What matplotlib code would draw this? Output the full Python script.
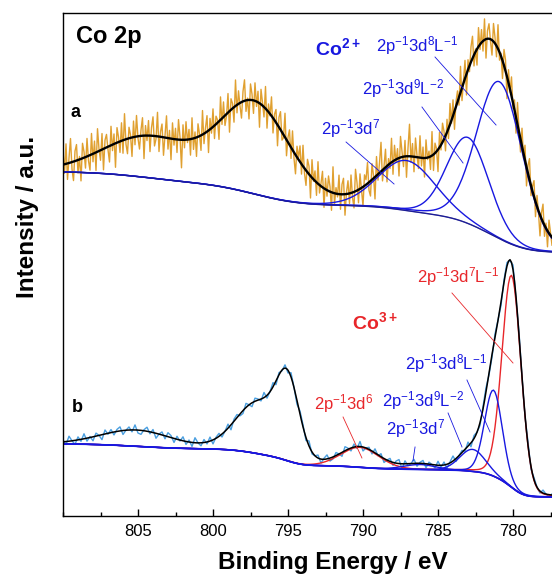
import numpy as np
import matplotlib.pyplot as plt
from matplotlib.ticker import MultipleLocator

plt.rcParams['font.family'] = ['Liberation Sans', 'DejaVu Sans']
plt.rcParams['mathtext.fontset'] = 'custom'
plt.rcParams['mathtext.rm'] = 'Liberation Sans'
plt.rcParams['mathtext.it'] = 'Liberation Sans:italic'
plt.rcParams['mathtext.bf'] = 'Liberation Sans:bold'

# binding energy window (eV)
e_hi, e_lo = 810.0, 777.4

# ---- sample a (Co2+): peak centre / height / FWHM, Shirley end points
a_centers = [804.3, 797.2, 787.1, 783.0, 780.9]
a_heights = [40, 90, 50, 86, 157]
a_fwhm = [7.0, 5.5, 4.5, 3.3, 3.6]
a_shown = [False, False, True, True, True]
a_bg_ends = [344, 264]
a_eta = 0.1

# counts minus fit, 0.1 eV steps from 810 eV down
a_resid = [
    14, -9, 20, -16, 5, 24, -7, -19, 10, 16, -13, 3, -22, 15, 6, -11, 18, -5, -15, 21,
    -8, 12, -18, 23, 2, -10, 16, -21, 8, 13, -3, -16, 19, -6, 10, -24, 15, 5, -11, 18,
    -13, 26, -5, -15, 11, 3, -19, 16, -8, 21, -2, -13, 6, 18, -23, 10, -5, 15, -16, 8,
    19, -10, -3, 24, -15, 5, 13, -18, 2, 22, -11, 8, -21, 16, -6, 11, -13, 20, 3, -28,
    15, -8, 18, -3, 10, -16, 21, -11, 6, -19, 13, 2, -15, 24, -10, 5, 16, -22, 11, -5,
    18, -13, 8, 3, -18, 23, -6, 15, -10, -2, 19, -21, 11, 5, -15, 26, -8, 13, -3, -16,
    10, 21, -11, 2, -19, 16, 6, -13, 18, -5, 11, -24, 15, 3, -10, 22, -18, 8, -2, 19,
    -15, 6, 13, -21, 10, 18, -8, -3, 24, -16, 5, 15, -11, 19, -6, -19, 11, 2, 16, -10,
    21, -5, -15, 13, 8, -22, 18, -2, 10, -13, 22, -8, 3, 16, -19, 11, -6, 15, 5, -18,
    26, -11, 6, -3, 19, -15, 10, 16, -21, 2, 13, -10, 18, -5, -16, 22, 8, -13, 15, -2,
    -19, 11, 5, 21, -8, -15, 16, 3, -22, 19, -6, 10, 29, -11, 2, 18, -16, 6, -5, 24,
    -13, 15, -3, 10, -18, 21, 5, -10, 16, -21, 8, 32, -6, 13, -15, 19, 2, -11, 22, -8,
    11, -19, 18, -2, 6, -13, 24, -16, 10, 3, -22, 15, -5, 19, 8, -15, 13, -10, 21, -3,
    16, -18, 5, 11, -8, 26, -13, 2, 18, -21, 10, -6, 15, 22, -11, 3, -16, 19, -5, 13,
    -10, 21, -19, 8, 15, -2, -15, 18, 6, -11, 24, -8, 3, -18, 16, 11, -22, 13, -3, 19,
    -6, 10, -16, 22, 2, -13, 18, -5, 15, -19, 8, 21, -10, 5, 16, -15, 11, -2, -21, 6,
    18, -11, 5, -16, 13, 3, -8,
]

# ---- sample b (Co3+ / Co2+ mix)
b_centers = [805.1, 797.0, 795.0, 790.2, 786.2, 782.7, 781.3, 780.1]
b_heights = [16, 50, 70, 20, 5, 22, 86, 212]
b_fwhm = [5.5, 3.5, 1.8, 3.0, 2.5, 2.0, 1.4, 1.5]
b_comp_color = [None, None, None, 'r', 'b', 'b', 'b', 'r']
b_bg_ends = [72, 19]
b_eta = 0.1

# counts minus fit, 0.2 eV steps from 810 eV down
b_resid = [
    2, -3, 5, 0, -4, 3, -2, 5, -3, 1, -4, 3, 0, -5, 4, -1, 3, -3, 2, 4,
    -4, 0, 3, -2, 5, -3, -4, 1, 4, -2, 3, -5, 0, 3, -3, 4, 2, -4, 3, -1,
    4, -3, 2, -4, 5, 0, -3, 3, -2, 4, -4, 1, 3, -3, 0, 4, -5, 2, 3, -2,
    -3, 4, 0, -4, 3, 1, -2, 5, -3, 0, 4, -4, 2, -1, 3, -3, 4, 0, -4, 3,
    2, -3, 5, -2, 0, 3, -4, 1, 4, -3, -2, 3, 0, -4, 4, 1, -3, 3, -2, 5,
    -4, 0, 2, -3, 4, -1, 3, -4, 0, 3, -3, 2, 4, -5, 3, -2, 0, 4, -3, 1,
    3, -4, 2, 0, -3, 4, -2, 3, -4, 1, 5, -3, 0, 2, -2, 4, -4, 3, 0, -3,
    2, 4, -2, -3, 3, 0, -4, 2, 3, -2, 4, -3, 2, 0, -2, 3, -3, 2, 0, -2,
    3, 0, -2, 1,
]

ORANGE = '#E0A030'
LBLUE = '#4A9FE0'
BLUE = '#1818E0'
NAVY = '#1C1C9A'
RED = '#E8262A'


def pseudo_voigt(e, c, h, w, eta):
    x = (e - c) / w
    return h * ((1 - eta) * np.exp(-4 * np.log(2) * x ** 2) + eta / (1 + 4 * x ** 2))


def fit_model(e, centers, heights, fwhm, eta, bg_ends):
    comps = [pseudo_voigt(e, c, h, w, eta) for c, h, w in zip(centers, heights, fwhm)]
    total = np.sum(comps, axis=0)
    # Shirley: step grows with the peak area on the low-BE side
    cum = np.cumsum(total[::-1])[::-1]
    bg = bg_ends[1] + (bg_ends[0] - bg_ends[1]) * cum / cum[0]
    return bg, comps, bg + total


e_a = np.linspace(e_hi, e_lo, len(a_resid))
e_b = np.linspace(e_hi, e_lo, len(b_resid))

bg_a, comps_a, env_a = fit_model(e_a, a_centers, a_heights, a_fwhm, a_eta, a_bg_ends)
raw_a = env_a + np.array(a_resid)

bg_b, comps_b, env_b = fit_model(e_a, b_centers, b_heights, b_fwhm, b_eta, b_bg_ends)
_, _, envb_raw = fit_model(e_b, b_centers, b_heights, b_fwhm, b_eta, b_bg_ends)
raw_b = envb_raw + np.array(b_resid)

fig = plt.figure(figsize=(5.52, 5.79), dpi=100)
ax = fig.add_axes([63 / 552, 63 / 579, 525 / 552, 503 / 579])

# --- a
ax.plot(e_a, raw_a, color=ORANGE, lw=1.0)
ax.plot(e_a, bg_a, color='#888888', lw=0.7)
for comp, show in zip(comps_a, a_shown):
    if show:
        ax.plot(e_a, bg_a + comp, color=BLUE, lw=1.0)
ax.plot(e_a, bg_a, color=NAVY, lw=1.0)
ax.plot(e_a, env_a, color='black', lw=1.7)

# --- b
ax.plot(e_b, raw_b, color=LBLUE, lw=1.0)
for comp, col in zip(comps_b, b_comp_color):
    if col == 'r':
        ax.plot(e_a, bg_b + comp, color=RED, lw=1.0)
for comp, col in zip(comps_b, b_comp_color):
    if col == 'b':
        ax.plot(e_a, bg_b + comp, color=BLUE, lw=1.0)
ax.plot(e_a, bg_b, color=BLUE, lw=1.2)
ax.plot(e_a, env_b, color='black', lw=1.1)

# annotations
lab = dict(fontsize=12, ha='left', va='center')
ax.text(809.1, 479, 'Co 2p', fontsize=17, fontweight='bold', ha='left', va='center')
ax.text(809.5, 404, 'a', fontsize=13, fontweight='bold', ha='left', va='center')
ax.text(809.4, 109, 'b', fontsize=13, fontweight='bold', ha='left', va='center')

ax.text(793.2, 468, r'Co$^{\mathbf{2+}}$', color=BLUE, fontsize=14, fontweight='bold',
        ha='left', va='center')
ax.text(789.1, 470, r'2p$^{-1}$3d$^{8}$L$^{-1}$', color=BLUE, **lab)
ax.text(790.1, 427, r'2p$^{-1}$3d$^{9}$L$^{-2}$', color=BLUE, **lab)
ax.text(792.8, 387, r'2p$^{-1}$3d$^{7}$', color=BLUE, **lab)
ax.plot([785.2, 781.13], [459, 391], color=BLUE, lw=0.6)
ax.plot([786.07, 783.33], [409, 353], color=BLUE, lw=0.6)
ax.plot([791.13, 787.93], [374, 332], color=BLUE, lw=0.6)

ax.text(790.7, 194, r'Co$^{\mathbf{3+}}$', color=RED, fontsize=14, fontweight='bold',
        ha='left', va='center')
ax.text(786.4, 239, r'2p$^{-1}$3d$^{7}$L$^{-1}$', color=RED, **lab)
ax.text(793.3, 112, r'2p$^{-1}$3d$^{6}$', color=RED, **lab)
ax.text(787.2, 152, r'2p$^{-1}$3d$^{8}$L$^{-1}$', color=BLUE, **lab)
ax.text(788.7, 115, r'2p$^{-1}$3d$^{9}$L$^{-2}$', color=BLUE, **lab)
ax.text(788.5, 87, r'2p$^{-1}$3d$^{7}$', color=BLUE, **lab)
ax.plot([784.07, 780.0], [223, 153], color=RED, lw=0.6)
ax.plot([791.33, 790.07], [99, 58], color=RED, lw=0.6)
ax.plot([783.07, 781.53], [136, 84], color=BLUE, lw=0.6)
ax.plot([784.33, 783.4], [103, 69], color=BLUE, lw=0.6)
ax.plot([786.53, 786.67], [69, 55], color=BLUE, lw=0.6)

ax.set_xlim(810, 775)
ax.set_ylim(0, 503)
ax.set_xticks([805, 800, 795, 790, 785, 780])
ax.xaxis.set_minor_locator(MultipleLocator(2.5))
ax.tick_params(axis='x', which='major', direction='in', length=5, width=1, labelsize=12, pad=6)
ax.tick_params(axis='x', which='minor', direction='in', length=3, width=1)
ax.set_yticks([])
for s in ax.spines.values():
    s.set_linewidth(1.0)

fig.text(333 / 552, 1 - 563 / 579, 'Binding Energy / eV', fontsize=17.5, fontweight='bold',
         ha='center', va='center')
fig.text(28 / 552, 1 - 217 / 579, 'Intensity / a.u.', fontsize=17.5, fontweight='bold',
         rotation=90, ha='center', va='center')

fig.savefig('out.png', dpi=100)
